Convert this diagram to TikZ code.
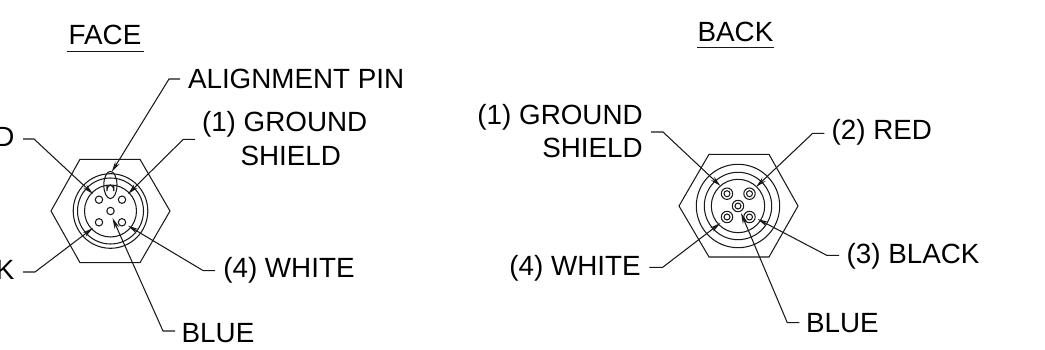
\documentclass[tikz,border=0pt]{standalone}
\usepackage{fontspec}
\setmainfont{Liberation Sans}
\usetikzlibrary{arrows.meta}
\tikzset{
  lbl/.style={inner sep=0pt,outer sep=0pt,font=\fontsize{27.8}{32}\selectfont,text=black,align=center},
  thin line/.style={line width=1.05pt,draw=black!90},
  leader/.style={line width=1.05pt,draw=black!90,-{Stealth[length=11pt,width=5pt,fill=black]}},
  pin/.style={circle,draw=black!90,line width=1.05pt,minimum size=7.4pt,inner sep=0pt},
  pinb/.style={circle,draw=black!90,line width=1.05pt,minimum size=11.4pt,inner sep=0pt},
}
\begin{document}
\begin{tikzpicture}[x=1pt,y=-1pt]
\useasboundingbox (0,0) rectangle (1045,350);
% titles
\node[lbl,anchor=base] (face) at (105,44.3) {FACE};
\node[lbl,anchor=base] (back) at (735.5,41.7) {BACK};
\draw[thin line] ([shift={(-2,7)}]face.base west) -- ([shift={(3,7)}]face.base east);
\draw[thin line] ([shift={(-1,6)}]back.base west) -- ([shift={(1,6)}]back.base east);
% FACE connector
\coordinate (fc) at (110.5,211);
\draw[thin line] (51,211) -- (80,159.3) -- (140,159.3) -- (170,211) -- (140,262.7) -- (80,262.7) -- cycle;
\foreach \r in {37.3,33,26}{\draw[thin line] (fc) circle (\r);}
\node[pin] (f2) at (99,199.7) {};
\node[pin] (f1) at (122,199.7) {};
\node[pin] (f3) at (99,222.3) {};
\node[pin] (f4) at (122,222.3) {};
\node[pin] (f5) at (110.5,211) {};
\draw[thin line] (110.4,185) ellipse (6.6 and 13.6);
\draw[thin line] (107,185) -- (107,191) arc (180:360:3.4 and 6) -- (113.8,185);
% FACE labels
\node[lbl,anchor=base east] (fred) at (14.5,146.5) {(2) RED};
\node[lbl,anchor=base east] (fblack) at (14.5,279) {(3) BLACK};
\node[lbl,anchor=base west] (falign) at (188,88.5) {ALIGNMENT PIN};
\node[lbl,anchor=base west] (fground) at (202,132) {(1) GROUND};
\node[lbl,anchor=base east] (fshield) at (341,165.5) {SHIELD};
\node[lbl,anchor=base west] (fwhite) at (223.3,277.7) {(4) WHITE};
\node[lbl,anchor=base west] (fblue) at (181.7,342) {BLUE};
\coordinate (s1) at (23,139); \coordinate (e1) at (34,139); \coordinate (t1) at (93,194);
\coordinate (s2) at (23,272); \coordinate (e2) at (35,272); \coordinate (t2) at (93,228);
\coordinate (s3) at (195,139.3); \coordinate (e3) at (183.3,139.3); \coordinate (t3) at (128,194);
\coordinate (s4) at (215,270.7); \coordinate (e4) at (203.3,270.7); \coordinate (t4) at (128,225.7);
\coordinate (s5) at (175,331); \coordinate (e5) at (163,331); \coordinate (t5) at (112.5,218);
\coordinate (s6) at (180,79); \coordinate (e6) at (169,79); \coordinate (t6) at (111.7,172);
\draw[leader] (s1) -- (e1) -- (t1);
\draw[leader] (s2) -- (e2) -- (t2);
\draw[leader] (s3) -- (e3) -- (t3);
\draw[leader] (s4) -- (e4) -- (t4);
\draw[leader] (s5) -- (e5) -- (t5);
\draw[leader] (s6) -- (e6) -- (t6);
% BACK connector
\coordinate (bc) at (738,206);
\draw[thin line] (679,206) -- (709,154.3) -- (769,154.3) -- (798,206) -- (769,257) -- (709,257) -- cycle;
\foreach \r in {41.7,33.7,26.7}{\draw[thin line] (bc) circle (\r);}
\foreach \n/\x/\y in {b1/727/193.7,b2/749.5/193.7,b4/727/217,b3/749.5/217,b5/738/206}{
  \node[pinb] (\n) at (\x,\y) {};
  \draw[thin line] (\n) circle (3);
}
% BACK labels
\node[lbl,anchor=base east] (bground) at (642.7,124.3) {(1) GROUND};
\node[lbl,anchor=base east] (bshield) at (642.7,158) {SHIELD};
\node[lbl,anchor=base west] (bred) at (831.7,140) {(2) RED};
\node[lbl,anchor=base west] (bblack) at (846.7,263.3) {(3) BLACK};
\node[lbl,anchor=base east] (bwhite) at (640.7,275) {(4) WHITE};
\node[lbl,anchor=base west] (bblue) at (806,332.3) {BLUE};
\coordinate (r1) at (651,132); \coordinate (g1) at (663,132); \coordinate (u1) at (720.5,186);
\coordinate (r2) at (824.3,133.3); \coordinate (g2) at (812.7,133.3); \coordinate (u2) at (756,187);
\coordinate (r3) at (839,255.3); \coordinate (g3) at (826.7,255.3); \coordinate (u3) at (757.5,219);
\coordinate (r4) at (649.3,267.3); \coordinate (g4) at (662.7,267.3); \coordinate (u4) at (720.5,223);
\coordinate (r5) at (799.3,322.7); \coordinate (g5) at (787.3,322.7); \coordinate (u5) at (741,213);
\draw[leader] (r1) -- (g1) -- (u1);
\draw[leader] (r2) -- (g2) -- (u2);
\draw[leader] (r3) -- (g3) -- (u3);
\draw[leader] (r4) -- (g4) -- (u4);
\draw[leader] (r5) -- (g5) -- (u5);
\end{tikzpicture}
\end{document}
